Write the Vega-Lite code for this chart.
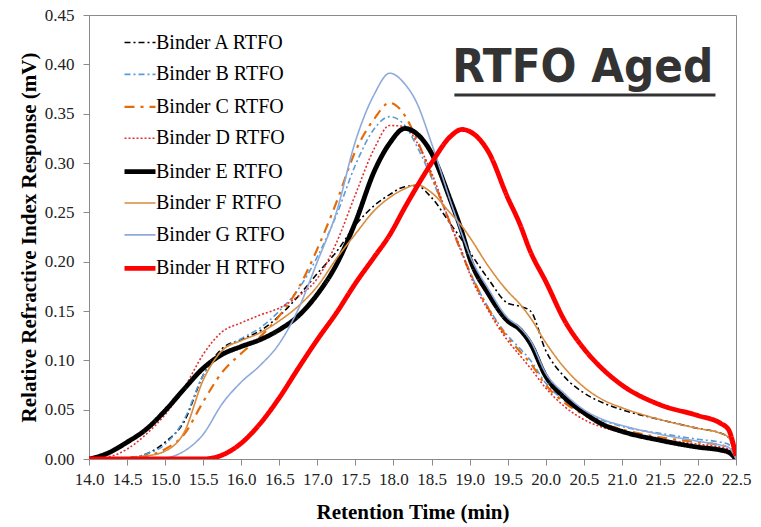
{
  "$schema": "https://vega.github.io/schema/vega-lite/v6.json",
  "width": 647,
  "height": 444,
  "autosize": {"type": "none"},
  "padding": {"left": 89, "top": 15, "right": 25, "bottom": 68},
  "background": "white",
  "config": {
    "view": {"stroke": "#8a8a8a", "strokeWidth": 1},
    "axis": {
      "grid": false,
      "domainColor": "#8a8a8a",
      "tickColor": "#8a8a8a",
      "labelFont": "Liberation Serif",
      "labelFontSize": 17,
      "labelColor": "#222222",
      "labelOverlap": false,
      "labelFlush": false,
      "titleFont": "Liberation Serif",
      "titleFontSize": 21,
      "titleFontWeight": "bold",
      "titleColor": "#000000",
      "tickSize": 6
    },
    "axisX": {"labelPadding": 6, "titlePadding": 14},
    "axisY": {"labelPadding": 9, "titlePadding": 5},
    "legend": {
      "orient": "none",
      "legendX": 33,
      "legendY": 11,
      "padding": 0,
      "symbolType": "stroke",
      "symbolSize": 961,
      "labelFont": "Liberation Serif",
      "labelFontSize": 20,
      "labelColor": "#000000",
      "labelOffset": -2,
      "rowPadding": 4.9
    }
  },
  "layer": [
    {
      "data": {
        "values": [
          {"t": 14.0, "A": 0, "B": 0, "C": 0, "D": 0, "E": 0, "F": 0, "G": 0, "H": 0},
          {"t": 14.25, "A": 0, "B": 0, "C": 0, "D": 0.002, "E": 0.006, "F": 0, "G": 0, "H": 0},
          {"t": 14.5, "A": 0.001, "B": 0.001, "C": 0.001, "D": 0.010, "E": 0.017, "F": 0.001, "G": 0, "H": 0},
          {"t": 14.75, "A": 0.005, "B": 0.005, "C": 0.003, "D": 0.025, "E": 0.030, "F": 0.003, "G": 0, "H": 0},
          {"t": 15.0, "A": 0.017, "B": 0.015, "C": 0.010, "D": 0.045, "E": 0.049, "F": 0.008, "G": 0.001, "H": 0},
          {"t": 15.25, "A": 0.038, "B": 0.040, "C": 0.025, "D": 0.072, "E": 0.071, "F": 0.027, "G": 0.008, "H": 0},
          {"t": 15.5, "A": 0.085, "B": 0.085, "C": 0.058, "D": 0.106, "E": 0.092, "F": 0.080, "G": 0.025, "H": 0},
          {"t": 15.75, "A": 0.112, "B": 0.110, "C": 0.088, "D": 0.129, "E": 0.106, "F": 0.110, "G": 0.056, "H": 0.004},
          {"t": 16.0, "A": 0.121, "B": 0.122, "C": 0.107, "D": 0.138, "E": 0.114, "F": 0.120, "G": 0.078, "H": 0.016},
          {"t": 16.25, "A": 0.130, "B": 0.133, "C": 0.124, "D": 0.146, "E": 0.121, "F": 0.128, "G": 0.095, "H": 0.036},
          {"t": 16.5, "A": 0.145, "B": 0.150, "C": 0.145, "D": 0.153, "E": 0.131, "F": 0.140, "G": 0.117, "H": 0.062},
          {"t": 16.75, "A": 0.165, "B": 0.172, "C": 0.173, "D": 0.165, "E": 0.145, "F": 0.155, "G": 0.152, "H": 0.092},
          {"t": 17.0, "A": 0.188, "B": 0.205, "C": 0.213, "D": 0.183, "E": 0.167, "F": 0.175, "G": 0.200, "H": 0.121},
          {"t": 17.25, "A": 0.210, "B": 0.247, "C": 0.260, "D": 0.219, "E": 0.197, "F": 0.203, "G": 0.250, "H": 0.148},
          {"t": 17.5, "A": 0.237, "B": 0.298, "C": 0.312, "D": 0.268, "E": 0.240, "F": 0.228, "G": 0.322, "H": 0.178},
          {"t": 17.75, "A": 0.257, "B": 0.335, "C": 0.345, "D": 0.315, "E": 0.292, "F": 0.252, "G": 0.370, "H": 0.205},
          {"t": 17.95, "A": 0.268, "B": 0.347, "C": 0.361, "D": 0.338, "E": 0.320, "F": 0.265, "G": 0.391, "H": 0.227},
          {"t": 18.15, "A": 0.276, "B": 0.338, "C": 0.348, "D": 0.337, "E": 0.335, "F": 0.274, "G": 0.380, "H": 0.255},
          {"t": 18.3, "A": 0.277, "B": 0.318, "C": 0.325, "D": 0.322, "E": 0.330, "F": 0.278, "G": 0.362, "H": 0.275},
          {"t": 18.5, "A": 0.265, "B": 0.285, "C": 0.287, "D": 0.290, "E": 0.310, "F": 0.270, "G": 0.320, "H": 0.300},
          {"t": 18.75, "A": 0.238, "B": 0.237, "C": 0.238, "D": 0.238, "E": 0.262, "F": 0.249, "G": 0.261, "H": 0.327},
          {"t": 18.9, "A": 0.222, "B": 0.208, "C": 0.208, "D": 0.210, "E": 0.230, "F": 0.236, "G": 0.228, "H": 0.334},
          {"t": 19.0, "A": 0.210, "B": 0.190, "C": 0.190, "D": 0.188, "E": 0.204, "F": 0.225, "G": 0.207, "H": 0.332},
          {"t": 19.25, "A": 0.182, "B": 0.153, "C": 0.152, "D": 0.150, "E": 0.167, "F": 0.195, "G": 0.172, "H": 0.311},
          {"t": 19.5, "A": 0.158, "B": 0.125, "C": 0.123, "D": 0.120, "E": 0.140, "F": 0.170, "G": 0.143, "H": 0.265},
          {"t": 19.65, "A": 0.155, "B": 0.113, "C": 0.110, "D": 0.106, "E": 0.132, "F": 0.158, "G": 0.134, "H": 0.240},
          {"t": 19.8, "A": 0.150, "B": 0.100, "C": 0.097, "D": 0.092, "E": 0.117, "F": 0.143, "G": 0.120, "H": 0.210},
          {"t": 20.0, "A": 0.110, "B": 0.077, "C": 0.075, "D": 0.072, "E": 0.084, "F": 0.118, "G": 0.087, "H": 0.180},
          {"t": 20.25, "A": 0.083, "B": 0.059, "C": 0.057, "D": 0.053, "E": 0.062, "F": 0.092, "G": 0.066, "H": 0.140},
          {"t": 20.5, "A": 0.067, "B": 0.047, "C": 0.045, "D": 0.040, "E": 0.047, "F": 0.073, "G": 0.050, "H": 0.112},
          {"t": 20.75, "A": 0.057, "B": 0.039, "C": 0.036, "D": 0.032, "E": 0.035, "F": 0.060, "G": 0.040, "H": 0.091},
          {"t": 21.0, "A": 0.050, "B": 0.033, "C": 0.030, "D": 0.027, "E": 0.028, "F": 0.052, "G": 0.034, "H": 0.075},
          {"t": 21.5, "A": 0.040, "B": 0.026, "C": 0.022, "D": 0.020, "E": 0.019, "F": 0.040, "G": 0.025, "H": 0.055},
          {"t": 22.0, "A": 0.031, "B": 0.020, "C": 0.017, "D": 0.015, "E": 0.012, "F": 0.031, "G": 0.018, "H": 0.044},
          {"t": 22.3, "A": 0.026, "B": 0.017, "C": 0.014, "D": 0.012, "E": 0.009, "F": 0.026, "G": 0.014, "H": 0.036},
          {"t": 22.4, "A": 0.022, "B": 0.015, "C": 0.012, "D": 0.010, "E": 0.007, "F": 0.022, "G": 0.012, "H": 0.030},
          {"t": 22.5, "A": 0, "B": 0, "C": 0, "D": 0, "E": 0, "F": 0, "G": 0, "H": 0.003}
        ]
      },
      "transform": [
        {"fold": ["A", "B", "C", "D", "E", "F", "G", "H"], "as": ["binder", "value"]}
      ],
      "mark": {"type": "line", "interpolate": "monotone", "clip": true},
      "encoding": {
        "x": {
          "field": "t",
          "type": "quantitative",
          "scale": {"domain": [14, 22.5], "nice": false, "zero": false},
          "axis": {
            "title": "Retention Time (min)",
            "values": [14, 14.5, 15, 15.5, 16, 16.5, 17, 17.5, 18, 18.5, 19, 19.5, 20, 20.5, 21, 21.5, 22, 22.5],
            "format": ".1f"
          }
        },
        "y": {
          "field": "value",
          "type": "quantitative",
          "scale": {"domain": [0, 0.45], "nice": false},
          "axis": {
            "title": "Relative Refractive Index Response (mV)",
            "values": [0, 0.05, 0.1, 0.15, 0.2, 0.25, 0.3, 0.35, 0.4, 0.45],
            "format": ".2f"
          }
        },
        "color": {
          "field": "binder",
          "type": "nominal",
          "scale": {
            "domain": ["A", "B", "C", "D", "E", "F", "G", "H"],
            "range": ["#000000", "#5b9bd5", "#e36c0a", "#e03030", "#000000", "#d98b3e", "#8eaadb", "#ff0000"]
          },
          "legend": {"title": null, "labelExpr": "'Binder ' + datum.label + ' RTFO'"}
        },
        "strokeDash": {
          "field": "binder",
          "type": "nominal",
          "scale": {
            "domain": ["A", "B", "C", "D", "E", "F", "G", "H"],
            "range": [[6, 3, 2, 3], [6, 3, 2, 3], [10, 6, 3, 6], [2, 2], [1, 0], [1, 0], [1, 0], [1, 0]]
          },
          "legend": {"title": null, "labelExpr": "'Binder ' + datum.label + ' RTFO'"}
        },
        "strokeWidth": {
          "field": "binder",
          "type": "ordinal",
          "scale": {
            "type": "ordinal",
            "domain": ["A", "B", "C", "D", "E", "F", "G", "H"],
            "range": [1.6, 1.6, 2.2, 1.6, 4.8, 1.6, 1.6, 4.8]
          },
          "legend": {"title": null, "labelExpr": "'Binder ' + datum.label + ' RTFO'"}
        }
      }
    },
    {
      "data": {"values": [{"label": "RTFO Aged"}]},
      "mark": {
        "type": "text",
        "align": "right",
        "baseline": "alphabetic",
        "font": "DejaVu Sans Condensed, sans-serif",
        "fontWeight": "bold",
        "fontSize": 47,
        "color": "#333333"
      },
      "encoding": {
        "x": {
          "datum": 22.2,
          "type": "quantitative",
          "axis": {
            "title": "Retention Time (min)",
            "values": [14, 14.5, 15, 15.5, 16, 16.5, 17, 17.5, 18, 18.5, 19, 19.5, 20, 20.5, 21, 21.5, 22, 22.5],
            "format": ".1f"
          }
        },
        "y": {
          "datum": 0.382,
          "type": "quantitative",
          "axis": {
            "title": "Relative Refractive Index Response (mV)",
            "values": [0, 0.05, 0.1, 0.15, 0.2, 0.25, 0.3, 0.35, 0.4, 0.45],
            "format": ".2f"
          }
        },
        "text": {"field": "label", "type": "nominal"}
      }
    },
    {
      "data": {"values": [{"label": "underline"}]},
      "mark": {"type": "rule", "color": "#333333", "strokeWidth": 3},
      "encoding": {
        "x": {
          "datum": 18.8,
          "type": "quantitative",
          "axis": {
            "title": "Retention Time (min)",
            "values": [14, 14.5, 15, 15.5, 16, 16.5, 17, 17.5, 18, 18.5, 19, 19.5, 20, 20.5, 21, 21.5, 22, 22.5],
            "format": ".1f"
          }
        },
        "x2": {"datum": 22.23},
        "y": {
          "datum": 0.369,
          "type": "quantitative",
          "axis": {
            "title": "Relative Refractive Index Response (mV)",
            "values": [0, 0.05, 0.1, 0.15, 0.2, 0.25, 0.3, 0.35, 0.4, 0.45],
            "format": ".2f"
          }
        }
      }
    }
  ]
}
